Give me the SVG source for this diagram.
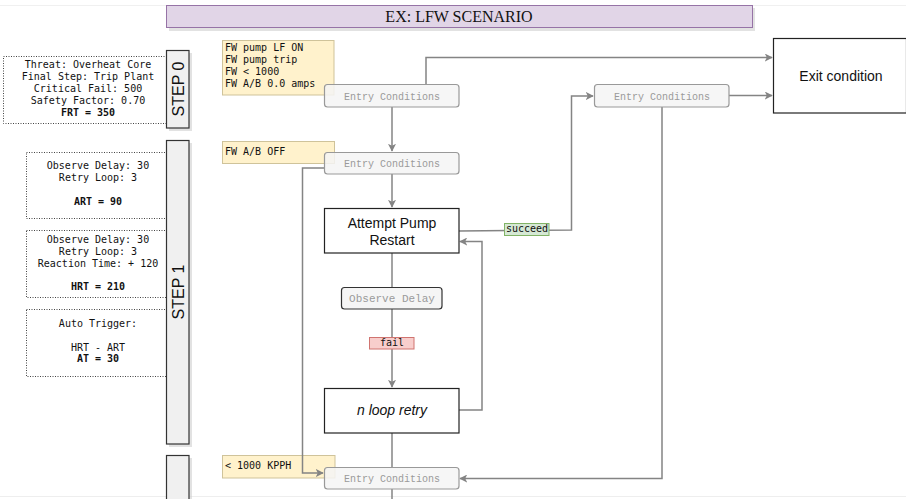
<svg xmlns="http://www.w3.org/2000/svg" width="906" height="499" viewBox="0 0 906 499">
<style>
.info{fill:#fff;stroke:#444;stroke-width:1;stroke-dasharray:1 1.5}
.mono{font-family:"DejaVu Sans Mono","Liberation Mono",monospace;font-size:10px;fill:#111}
.mc{text-anchor:middle}
.bold{font-weight:bold}
.note{fill:#fff2cc;stroke:#cfc39a;stroke-width:1}
.ec{fill:#f5f5f5;fill-opacity:0.85;stroke:#999;stroke-width:1.2}
.ect{font-family:"Liberation Mono","Courier New",monospace;font-size:10px;fill:#9a9a9a;text-anchor:middle}
.step{fill:#f0f0f0;stroke:#333;stroke-width:1.2}
.shadow{fill:#cfcfcf;opacity:0.6}
.stept{font-family:"Liberation Sans",Arial,sans-serif;font-size:16px;fill:#111;text-anchor:middle}
.box{fill:#fff;stroke:#222;stroke-width:1.2}
.sans{font-family:"Liberation Sans",Arial,sans-serif;font-size:14px;fill:#111;text-anchor:middle}
.conn{fill:none;stroke:#848484;stroke-width:1.5}
</style>
<defs>
<marker id="arr" viewBox="0 0 10 10" refX="9" refY="5" markerWidth="8" markerHeight="8" markerUnits="userSpaceOnUse" orient="auto">
<path d="M0,0 L10,5 L0,10 L2.5,5 Z" fill="#848484"/>
</marker>
</defs>
<rect x="0" y="0" width="906" height="499" fill="#fff"/>
<line x1="0" y1="5.5" x2="906" y2="5.5" stroke="#f0f0f0" stroke-width="1"/>
<line x1="0" y1="496.5" x2="906" y2="496.5" stroke="#eeeeee" stroke-width="1"/>

<g id="title">
<rect x="169" y="8" width="586" height="23" class="shadow"/>
<rect x="166.5" y="5.5" width="586" height="22" fill="#e1d5e7" stroke="#9673a6" stroke-width="1"/>
<text x="459" y="22" font-family="'Liberation Serif','Times New Roman',serif" font-size="16" text-anchor="middle" fill="#111">EX: LFW SCENARIO</text>
</g>

<g id="info0">
<rect x="3.5" y="56.5" width="168" height="67" class="info"/>
<text class="mono mc" x="88" y="68">Threat: Overheat Core</text>
<text class="mono mc" x="88" y="80">Final Step: Trip Plant</text>
<text class="mono mc" x="88" y="92">Critical Fail: 500</text>
<text class="mono mc" x="88" y="104">Safety Factor: 0.70</text>
<text class="mono mc bold" x="88" y="116">FRT = 350</text>
</g>
<g id="info1">
<rect x="26.5" y="152.5" width="145" height="66" class="info"/>
<text class="mono mc" x="98" y="169">Observe Delay: 30</text>
<text class="mono mc" x="98" y="181">Retry Loop: 3</text>
<text class="mono mc bold" x="98" y="205">ART = 90</text>
</g>
<g id="info2">
<rect x="26.5" y="230.5" width="145" height="67" class="info"/>
<text class="mono mc" x="98" y="243">Observe Delay: 30</text>
<text class="mono mc" x="98" y="255">Retry Loop: 3</text>
<text class="mono mc" x="98" y="267">Reaction Time: + 120</text>
<text class="mono mc bold" x="98" y="290">HRT = 210</text>
</g>
<g id="info3">
<rect x="26.5" y="309.5" width="145" height="67" class="info"/>
<text class="mono mc" x="98" y="327">Auto Trigger:</text>
<text class="mono mc" x="98" y="351">HRT - ART</text>
<text class="mono mc bold" x="98" y="362">AT = 30</text>
</g>

<g id="step0">
<rect x="169" y="53" width="23" height="78" class="shadow"/>
<rect x="166.5" y="50.5" width="22.5" height="77.5" class="step"/>
<text class="stept" transform="translate(184,89) rotate(-90)" x="0" y="0">STEP 0</text>
</g>
<g id="step1">
<rect x="169" y="143" width="23" height="304" class="shadow"/>
<rect x="166.5" y="140.5" width="22.5" height="303.5" class="step"/>
<text class="stept" transform="translate(184,292) rotate(-90)" x="0" y="0">STEP 1</text>
</g>
<g id="step2">
<rect x="169" y="458" width="23" height="50" class="shadow"/>
<rect x="166.5" y="455.5" width="22.5" height="50" class="step"/>
</g>

<g id="noteA">
<rect x="222.5" y="40.5" width="111.5" height="54.5" class="note"/>
<text class="mono" x="225" y="51">FW pump LF ON</text>
<text class="mono" x="225" y="63">FW pump trip</text>
<text class="mono" x="225" y="75">FW &lt; 1000</text>
<text class="mono" x="225" y="87">FW A/B 0.0 amps</text>
</g>
<g id="noteB">
<rect x="222.5" y="141.5" width="112" height="22" class="note"/>
<text class="mono" x="225" y="155">FW A/B OFF</text>
</g>
<g id="noteC">
<rect x="222.5" y="455.5" width="112.5" height="22.5" class="note"/>
<text class="mono" x="225" y="469">&lt; 1000 KPPH</text>
</g>

<g id="connectors">
<polyline class="conn" points="426,84 426,57.5 772,57.5" marker-end="url(#arr)"/>
<line class="conn" x1="392" y1="107" x2="392" y2="151" marker-end="url(#arr)"/>
<line class="conn" x1="392" y1="174" x2="392" y2="207" marker-end="url(#arr)"/>
<polyline class="conn" points="324,168 302.5,168 302.5,473 323,473" marker-end="url(#arr)"/>
<polyline class="conn" points="459,231 571.5,230 571.5,96 593,96" marker-end="url(#arr)"/>
<line class="conn" x1="729" y1="95.5" x2="772" y2="95.5" marker-end="url(#arr)"/>
<polyline class="conn" points="662,107 662,478.5 460,478.5" marker-end="url(#arr)"/>
<line class="conn" x1="392" y1="253" x2="392" y2="287"/>
<line class="conn" x1="392" y1="309" x2="392" y2="387" marker-end="url(#arr)"/>
<polyline class="conn" points="459,410 482,410 482,241.5 460,241.5" marker-end="url(#arr)"/>
<line class="conn" x1="392" y1="433" x2="392" y2="467"/>
<line class="conn" x1="392" y1="489" x2="392" y2="499"/>
</g>

<g id="ec1">
<rect x="324.5" y="84.5" width="134.5" height="22.5" rx="3" class="ec"/>
<text class="ect" x="392" y="99.5">Entry Conditions</text>
</g>
<g id="ec2">
<rect x="324.5" y="152.5" width="134.5" height="21.5" rx="3" class="ec"/>
<text class="ect" x="392" y="166.5">Entry Conditions</text>
</g>
<g id="ec3">
<rect x="594.5" y="84.5" width="134.5" height="22.5" rx="3" class="ec"/>
<text class="ect" x="662" y="99.5">Entry Conditions</text>
</g>
<g id="ec4">
<rect x="324.5" y="467.5" width="134.5" height="21.5" rx="3" class="ec"/>
<text class="ect" x="392" y="481.5">Entry Conditions</text>
</g>

<g id="exit">
<rect x="773.5" y="38.5" width="133" height="74.5" class="box"/>
<text class="sans" x="841" y="81">Exit condition</text>
</g>
<g id="attempt">
<rect x="324.5" y="208.5" width="134.5" height="44.5" class="box"/>
<text class="sans" x="392" y="228">Attempt Pump</text>
<text class="sans" x="392" y="245">Restart</text>
</g>
<g id="observe">
<rect x="341.5" y="287.5" width="100.5" height="21.5" rx="3" fill="#f5f5f5" stroke="#333" stroke-width="1.2"/>
<text class="ect" x="392" y="302" style="font-size:11px">Observe Delay</text>
</g>
<g id="fail">
<rect x="369.5" y="337.5" width="44.5" height="11.5" fill="#f8cecc" stroke="#d07470" stroke-width="1"/>
<text class="mono mc" x="392" y="345.5">fail</text>
</g>
<g id="succeed">
<rect x="504.5" y="223.5" width="44.5" height="12" fill="#d5e8d4" stroke="#82b366" stroke-width="1"/>
<text class="mono mc" x="527" y="232">succeed</text>
</g>
<g id="nloop">
<rect x="324.5" y="388.5" width="134.5" height="44.5" class="box"/>
<text class="sans" x="392" y="415" font-style="italic">n loop retry</text>
</g>
</svg>
